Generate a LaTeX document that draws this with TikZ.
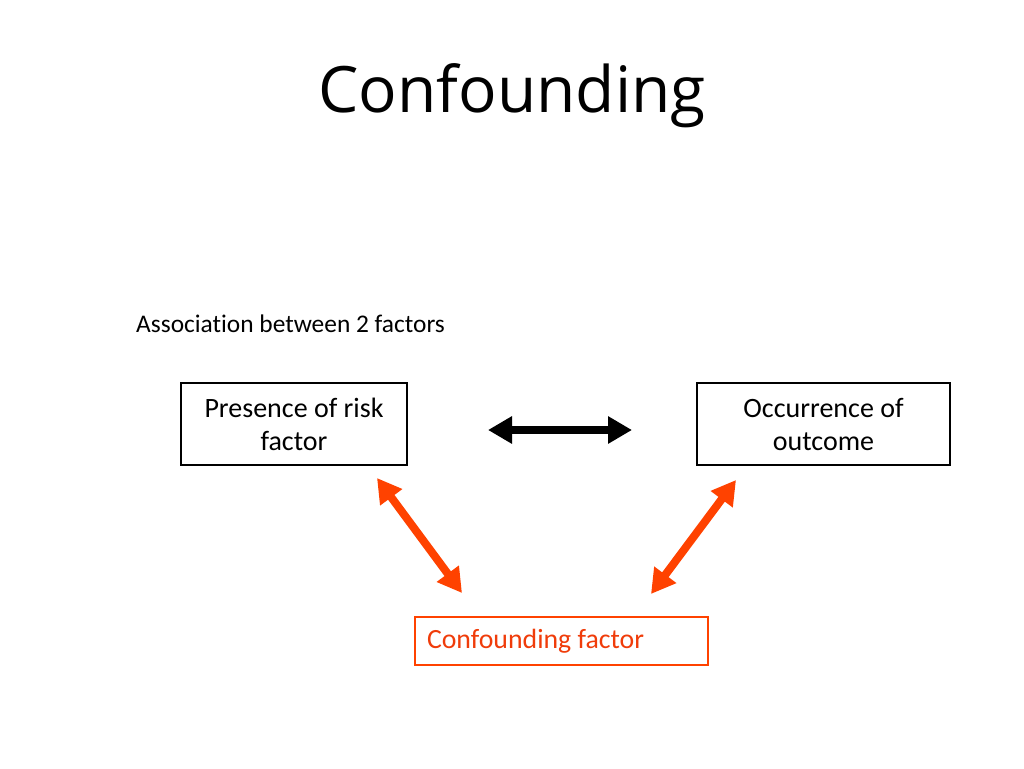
\documentclass[tikz,border=0pt]{standalone}
\usepackage{fontspec}
\setmainfont[Ligatures=NoCommon]{Carlito}
\newfontfamily\titlefont{Open Sans}
\usetikzlibrary{arrows.meta}
\definecolor{conf}{RGB}{255,66,0}
\definecolor{conftext}{RGB}{240,60,10}
\tikzset{
  factorbox/.style={draw=black, line width=2pt, align=center, inner sep=0pt,
    font=\fontsize{28}{33}\selectfont},
  blockarrow/.style={line width=8pt, {Triangle[length=24pt,width=26pt]}-{Triangle[length=24pt,width=26pt]}},
}
\begin{document}
\begin{tikzpicture}[x=1pt,y=-1pt]
\useasboundingbox[fill=white] (0,0) rectangle (1024,768);
\node[anchor=base, font=\titlefont\fontsize{64}{70}\selectfont] (title) at (512,112) {Confounding};
\node[anchor=base west, inner sep=0pt, font=\fontsize{25.4}{30}\selectfont] (assoc) at (136,332) {Association between 2 factors};
\node[factorbox, minimum width=226pt, minimum height=82pt] (risk) at (294,424) {Presence of risk\\factor};
\node[factorbox, minimum width=253pt, minimum height=82pt] (outcome) at (823.5,424) {Occurrence of\\outcome};
\node[draw=conf, line width=2.5pt, text=conftext, minimum width=293pt, minimum height=48pt,
  inner xsep=12pt, inner ysep=0pt, text width=269pt, align=flush left,
  font=\fontsize{27.8}{32}\selectfont] (conf) at (561.5,641) {Confounding factor};
\coordinate (b1) at (488,430);
\coordinate (b2) at (632,430);
\coordinate (r1) at (377,478);
\coordinate (r2) at (462,593);
\coordinate (o1) at (736,480);
\coordinate (o2) at (651,594);
\draw[blockarrow, draw=black, fill=black] (b1) -- (b2);
\draw[blockarrow, draw=conf, fill=conf] (r1) -- (r2);
\draw[blockarrow, draw=conf, fill=conf] (o1) -- (o2);
\end{tikzpicture}
\end{document}
